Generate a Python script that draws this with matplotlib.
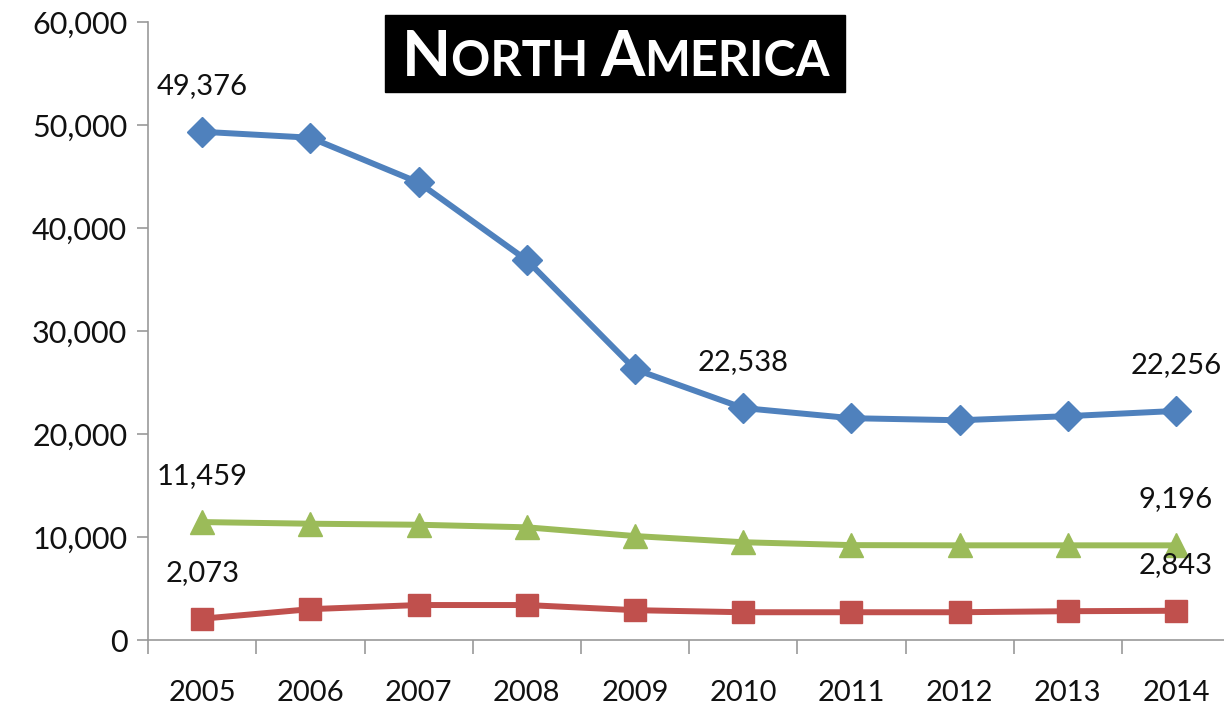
import matplotlib
matplotlib.use("Agg")
import matplotlib.pyplot as plt
import numpy as np

# dados
anos = ["2005", "2006", "2007", "2008", "2009", "2010", "2011", "2012", "2013", "2014"]
serie_azul = [49376, 48800, 44450, 36900, 26300, 22538, 21550, 21350, 21750, 22256]
serie_verde = [11459, 11300, 11200, 10950, 10100, 9500, 9220, 9200, 9200, 9196]
serie_vermelha = [2073, 3000, 3400, 3400, 2900, 2700, 2700, 2700, 2800, 2843]
yticks = [0, 10000, 20000, 30000, 40000, 50000, 60000]

# índices dos pontos com rótulo de valor
rotulos_azul = [0, 5, 9]
rotulos_verde = [0, 9]
rotulos_vermelha = [0, 9]

AZUL = "#4F81BD"
VERMELHO = "#C0504D"
VERDE = "#9BBB59"

plt.rcParams["font.family"] = ["Lato", "DejaVu Sans"]

fig = plt.figure(figsize=(12.24, 7.14), dpi=100)
ax = fig.add_axes([0.121, 0.1036, 0.884, 0.865])

x = np.arange(len(anos))
ax.plot(x, serie_azul, color=AZUL, lw=4.3, marker="D", ms=15, zorder=3)
ax.plot(x, serie_verde, color=VERDE, lw=4.3, marker="^", ms=17, zorder=3)
ax.plot(x, serie_vermelha, color=VERMELHO, lw=4.3, marker="s", ms=16, zorder=3)

# rótulos de valor acima dos pontos
for serie, idxs in [(serie_azul, rotulos_azul), (serie_verde, rotulos_verde),
                    (serie_vermelha, rotulos_vermelha)]:
    for i in idxs:
        ax.annotate(f"{serie[i]:,}", (x[i], serie[i]), xytext=(0, 33),
                    textcoords="offset points", ha="center", va="center",
                    fontsize=21, color="#111111")

ax.set_xlim(-0.5, len(anos) - 0.5)
ax.set_ylim(0, 60000)
ax.set_yticks(yticks)
ax.set_yticklabels([f"{v:,}" for v in yticks])
ax.set_xticks(x)
ax.set_xticklabels(anos)
ax.set_xticks(np.arange(-0.5, len(anos)), minor=True)
ax.tick_params(axis="x", which="major", length=0, pad=29, labelsize=21,
               labelcolor="#111111")
ax.tick_params(axis="x", which="minor", length=10, width=1.2, color="#999999")
ax.tick_params(axis="y", length=8, width=1.2, color="#999999", pad=7, labelsize=22,
               labelcolor="#111111")
for s in ["top", "right"]:
    ax.spines[s].set_visible(False)
for s in ["left", "bottom"]:
    ax.spines[s].set_color("#999999")
    ax.spines[s].set_linewidth(1.2)

# título em versalete sobre caixa preta
fig.patches.append(plt.Rectangle((385 / 1224, 1 - 92 / 714), 460 / 1224, 77 / 714,
                                 transform=fig.transFigure, color="black", zorder=5))
partes = [("N", 46), ("ORTH ", 35), ("A", 46), ("MERICA", 35)]
textos = []
for txt, tam in partes:
    textos.append(fig.text(402 / 1224, 1 - 76 / 714, txt, fontsize=tam,
                           fontweight="bold", color="white", va="baseline",
                           ha="left", zorder=6))

# coloca as partes do título uma após a outra
fig.canvas.draw()
r = fig.canvas.get_renderer()
y0 = textos[0].get_position()[1]
for ant, t in zip(textos[:-1], textos[1:]):
    bb = ant.get_window_extent(r)
    t.set_position((bb.x1 / fig.bbox.width, y0))

fig.savefig("out.png", dpi=100)
